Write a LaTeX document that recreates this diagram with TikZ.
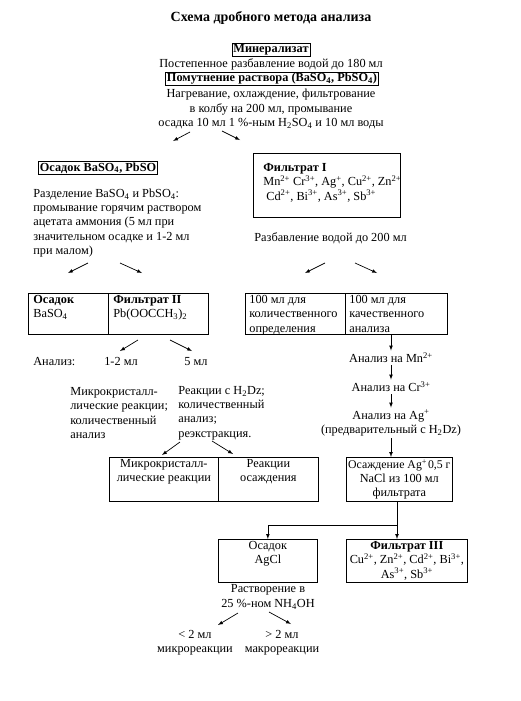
\documentclass[tikz,border=0pt]{standalone}
\usepackage{fontspec}
\setmainfont{Liberation Serif}
\usetikzlibrary{arrows.meta}
\tikzset{>=latex}
\newcommand{\topbox}[3]{\parbox[c][#2][t]{#1}{#3}}

\begin{document}
\fontsize{12.3}{14.3}\selectfont
\begin{tikzpicture}[x=1pt, y=-1pt, line width=0.7pt,
  frame/.style={draw, inner xsep=1.5pt, inner ysep=1pt, font=\bfseries},
  cell/.style={draw, anchor=north west, inner xsep=5pt, inner ysep=2pt},
  txt/.style={align=left, inner sep=0pt, anchor=west},
  ctr/.style={align=center, inner sep=0pt},
  chain/.style={align=center, inner sep=2pt}]

    \useasboundingbox (0,0) rectangle (521,701);

    % Head of the scheme
    \node[font=\fontsize{14}{16}\selectfont\bfseries] (title) at (271,18) {Схема дробного метода анализа};
    \node[frame] (miner) at (271,50) {Минерализат};
    \node[ctr] (dil) at (271,64) {Постепенное разбавление водой до 180 мл};
    \node[frame] (turb) at (272,79) {Помутнение раствора (BaSO\textsubscript{4}, PbSO\textsubscript{4})};
    \node[ctr] (heat) at (271,109) {Нагревание, охлаждение, фильтрование\\в колбу на 200 мл, промывание\\осадка 10 мл 1 \%-ным H\textsubscript{2}SO\textsubscript{4} и 10 мл воды};

    % Left branch
    \node[frame] (prec) at (98,168) {Осадок BaSO\textsubscript{4}, PbSO};
    \node[txt] (sep) at (33,223) {Разделение BaSO\textsubscript{4} и PbSO\textsubscript{4}:\\промывание горячим раствором\\ацетата аммония (5 мл при\\значительном осадке и 1-2 мл\\при малом)};

    % Right branch
    \node[cell, inner xsep=10pt, inner ysep=10pt] (filtI) at (253,153) {\topbox{127pt}{44pt}{\raggedright\textbf{Фильтрат I}\\\mbox{Mn\textsuperscript{2+} Cr\textsuperscript{3+}, Ag\textsuperscript{+}, Cu\textsuperscript{2+}, Zn\textsuperscript{2+}}\\\mbox{\hspace*{3pt}Cd\textsuperscript{2+}, Bi\textsuperscript{3+}, As\textsuperscript{3+}, Sb\textsuperscript{3+}}}};
    \node[txt] (dilII) at (254,238) {Разбавление водой до 200 мл};

    % Table rows
    \node[cell] (osBa) at (28,293) {\topbox{70pt}{37pt}{\textbf{Осадок}\\BaSO\textsubscript{4}}};
    \node[cell] (filtII) at (108,293) {\topbox{90pt}{37pt}{\textbf{Фильтрат II}\\Pb(OOCCH\textsubscript{3})\textsubscript{2}}};
    \node[cell, inner xsep=4pt] (quant) at (245,293) {\topbox{92pt}{37pt}{100 мл для\\\mbox{количественного}\\определения}};
    \node[cell, inner xsep=4pt] (qual) at (345,293) {\topbox{94pt}{37pt}{100 мл для\\качественного\\анализа}};

    \node[txt, anchor=base west] (anal) at (33,365) {Анализ:};
    \node[ctr, anchor=base] (vsmall) at (121,365) {1-2 мл};
    \node[ctr, anchor=base] (vbig) at (196,365) {5 мл};

    \node[txt] (micro) at (70,413) {Микрокристалл-\\лические реакции;\\количественный\\анализ};
    \node[txt] (react) at (178,413) {Реакции с H\textsubscript{2}Dz;\\количественный\\анализ;\\реэкстракция.};

    \node[cell] (mkr) at (109,457) {\topbox{99pt}{40pt}{\centering Микрокристалл-\\лические реакции}};
    \node[cell] (osz) at (218,457) {\topbox{90pt}{40pt}{\centering Реакции\\осаждения}};

    % Cation chain
    \node[chain] (mn) at (391,358) {Анализ на Mn\textsuperscript{2+}};
    \node[chain] (cr) at (391,387) {Анализ на Cr\textsuperscript{3+}};
    \node[chain] (ag) at (391,423) {Анализ на Ag\textsuperscript{+}\\(предварительный с H\textsubscript{2}Dz)};
    \node[cell, inner xsep=0pt] (sed) at (346,457) {\topbox{106pt}{40pt}{\centering\mbox{\fontsize{11.8}{14.3}\selectfont Осаждение Ag\textsuperscript{+}\hspace{-2pt} 0,5 г}\\NaCl из 100 мл\\фильтрата}};

    \draw[->] (qual.south -| mn.north) -- (mn.north);
    \draw[->] (mn) -- (cr);
    \draw[->] (cr) -- (ag);
    \draw[->] (ag.south) -- (ag.south |- sed.north);

    % Silver chloride
    \node[cell] (agcl) at (218,539) {\topbox{89pt}{39pt}{\centering Осадок\\AgCl}};
    \node[cell, inner xsep=2pt] (filtIII) at (346,539) {\topbox{117pt}{39pt}{\centering\textbf{Фильтрат III}\\\mbox{Cu\textsuperscript{2+}, Zn\textsuperscript{2+}, Cd\textsuperscript{2+}, Bi\textsuperscript{3+},}\\As\textsuperscript{3+}, Sb\textsuperscript{3+}}};
    \coordinate (split) at (397,525);
    \draw (sed.south -| split) -- (split);
    \draw[->] (split) -| (agcl.north);
    \draw[->] (split) -- (split |- filtIII.north);

    \node[ctr] (diss) at (268,597) {Растворение в\\25 \%-ном NH\textsubscript{4}OH};
    \node[ctr] (micr) at (195,643) {< 2 мл\\микрореакции};
    \node[ctr] (macr) at (282,643) {> 2 мл\\макрореакции};

    % Free arrows
    \foreach \n/\xa/\ya/\xb/\yb in {1/190/132/173/141, 2/222/131/240/140,
        3/88/263/68/273, 4/120/263/142/273, 5/325/263/305/273, 6/355/263/377/273,
        7/138/340/120/351, 8/170/340/192/351, 9/180/442/162/455, 10/212/441/233/454,
        11/238/613/218/625, 12/269/612/291/624}{
            \coordinate (s\n) at (\xa,\ya);
            \coordinate (e\n) at (\xb,\yb);
            \draw[->] (s\n) -- (e\n);
        }

\end{tikzpicture}
\end{document}
